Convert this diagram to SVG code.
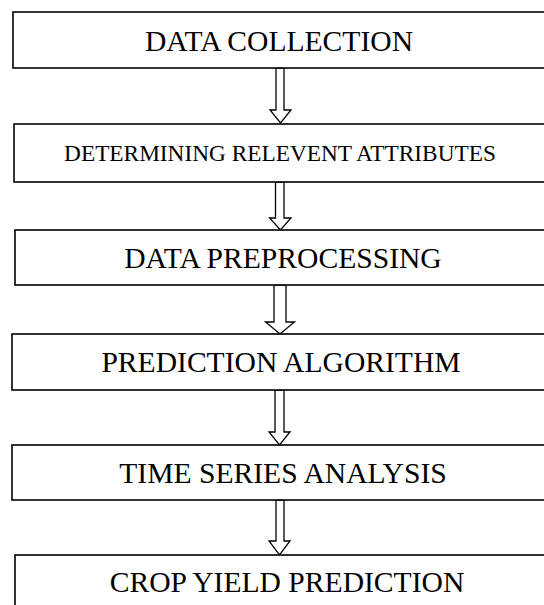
<svg xmlns="http://www.w3.org/2000/svg" width="544" height="605" viewBox="0 0 544 605">
<style>
.box{fill:#fff;stroke:#000;stroke-width:1.6}
.lbl{font-family:"Liberation Serif","Times New Roman",serif;font-size:29.6px;fill:#000;text-anchor:middle}
.sm{font-size:23.3px}
.arr{fill:#fff;stroke:#000;stroke-width:1.3;stroke-linejoin:miter}
</style>
<rect width="544" height="605" fill="#fff"/>
<g id="connectors">
<polygon class="arr" points="276,68 284,68 284,110 291,110 280.5,123 270,110 276,110"/>
<polygon class="arr" points="275.5,182 284,182 284,218 291,218 280.5,230 269.5,218 275.5,218"/>
<polygon class="arr" points="274,285 286,285 286,322 294.5,322 280,334 265.5,322 274,322"/>
<polygon class="arr" points="275,390 284,390 284,432 290,432 279.5,445 269,432 275,432"/>
<polygon class="arr" points="276,500 284,500 284,541 290,541 279.5,555 269,541 276,541"/>
</g>
<g id="n1"><rect class="box" x="13" y="12" width="540" height="56"/><text class="lbl" x="279" y="51">DATA COLLECTION</text></g>
<g id="n2"><rect class="box" x="14" y="124" width="540" height="58"/><text class="lbl sm" x="280" y="161">DETERMINING RELEVENT ATTRIBUTES</text></g>
<g id="n3"><rect class="box" x="15" y="230" width="540" height="55"/><text class="lbl" x="283" y="268">DATA PREPROCESSING</text></g>
<g id="n4"><rect class="box" x="12" y="334" width="540" height="56"/><text class="lbl" x="281" y="372">PREDICTION ALGORITHM</text></g>
<g id="n5"><rect class="box" x="12" y="445" width="540" height="55"/><text class="lbl" x="283" y="483">TIME SERIES ANALYSIS</text></g>
<g id="n6"><rect class="box" x="15" y="555" width="540" height="60"/><text class="lbl" x="287" y="592">CROP YIELD PREDICTION</text></g>
</svg>
